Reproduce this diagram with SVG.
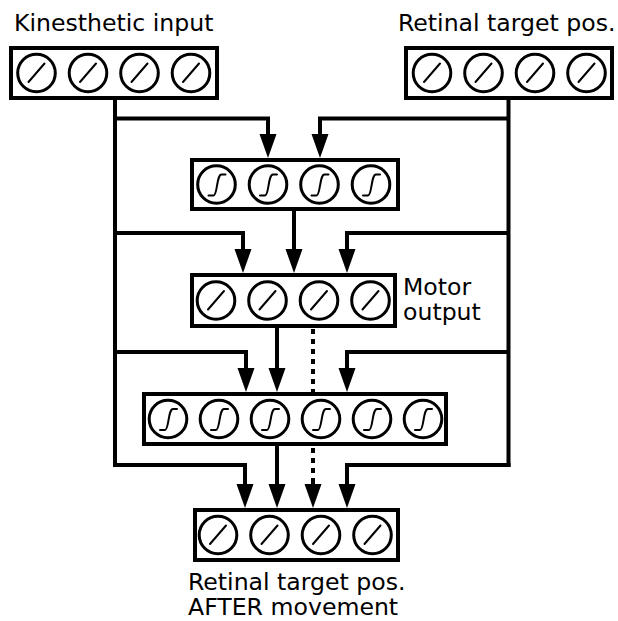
<svg xmlns="http://www.w3.org/2000/svg" width="618" height="621" viewBox="0 0 618 621">
  <style>
    .box { fill: #fff; stroke: #000; stroke-width: 4; }
    .unit { fill: #fff; stroke: #000; stroke-width: 3; }
    .glyph { fill: none; stroke: #000; stroke-width: 2; stroke-linecap: round; }
    .wire { fill: none; stroke: #000; stroke-width: 4; stroke-linejoin: miter; }
    .arrow { marker-end: url(#head); }
    .dotted { stroke-dasharray: 5 5; }
    text { font-family: "DejaVu Sans", "Liberation Sans", sans-serif; font-size: 23.6px; fill: #000; }
  </style>
  <defs>
    <marker id="head" markerUnits="userSpaceOnUse" markerWidth="24" markerHeight="17" refX="14" refY="8.5" orient="auto" overflow="visible">
      <path d="M0,0 L24,8.5 L0,17 Z" fill="#000"/>
    </marker>
    <!-- linear unit -->
    <g id="lin">
      <circle class="unit" r="18.8"/>
      <path class="glyph" d="M-8,9 L8,-9.5"/>
    </g>
    <!-- sigmoid unit -->
    <g id="sig">
      <circle class="unit" r="18.8"/>
      <path class="glyph" d="M-8,11 H-3 C1,11 0,-10 5,-10 H9"/>
    </g>
  </defs>

  <!-- connectors -->
  <g id="connectors">
    <!-- left trunk from kinesthetic input -->
    <path class="wire" d="M115,98 V467"/>
    <path class="wire arrow" d="M115,118.5 H268 V148"/>
    <path class="wire arrow" d="M115,233 H243 V263"/>
    <path class="wire arrow" d="M115,352 H246 V382"/>
    <path class="wire arrow" d="M113,465 H245 V498"/>
    <!-- right trunk from retinal target position -->
    <path class="wire" d="M508.5,98 V467"/>
    <path class="wire arrow" d="M508.5,118.5 H320 V148"/>
    <path class="wire arrow" d="M508.5,233 H347 V263"/>
    <path class="wire arrow" d="M508.5,352 H347 V382"/>
    <path class="wire arrow" d="M510.5,465 H347 V498"/>
    <!-- central chain -->
    <path class="wire arrow" d="M294,210 V263"/>
    <path class="wire arrow" d="M277,327 V382"/>
    <path class="wire dotted" d="M313,329 V392"/>
    <path class="wire arrow" d="M277,446 V498"/>
    <path class="wire dotted" d="M313,448 V480"/>
    <path class="wire arrow" d="M313,478 V498"/>
  </g>

  <!-- kinesthetic input layer -->
  <g id="kinesthetic">
    <text x="14" y="31">Kinesthetic input</text>
    <rect class="box" x="11" y="48" width="206" height="50"/>
    <use href="#lin" x="36.5" y="73"/>
    <use href="#lin" x="88" y="73"/>
    <use href="#lin" x="139.5" y="73"/>
    <use href="#lin" x="191" y="73"/>
  </g>

  <!-- retinal target position layer -->
  <g id="retinal">
    <text x="398" y="31">Retinal target pos.</text>
    <rect class="box" x="406" y="48" width="206" height="50"/>
    <use href="#lin" x="432" y="73"/>
    <use href="#lin" x="483.5" y="73"/>
    <use href="#lin" x="535" y="73"/>
    <use href="#lin" x="586.5" y="73"/>
  </g>

  <!-- first hidden layer -->
  <g id="hidden1">
    <rect class="box" x="192" y="160" width="206" height="49"/>
    <use href="#sig" x="216.5" y="184.5"/>
    <use href="#sig" x="268" y="184.5"/>
    <use href="#sig" x="319.5" y="184.5"/>
    <use href="#sig" x="371" y="184.5"/>
  </g>

  <!-- motor output layer -->
  <g id="motor">
    <rect class="box" x="192" y="275" width="203" height="51"/>
    <use href="#lin" x="216" y="300.5"/>
    <use href="#lin" x="267.5" y="300.5"/>
    <use href="#lin" x="319" y="300.5"/>
    <use href="#lin" x="370.5" y="300.5"/>
    <text x="403" y="295"><tspan x="403" y="295">Motor</tspan><tspan x="403" y="320">output</tspan></text>
  </g>

  <!-- second hidden layer -->
  <g id="hidden2">
    <rect class="box" x="144" y="394" width="302" height="50"/>
    <use href="#sig" x="168" y="419"/>
    <use href="#sig" x="219" y="419"/>
    <use href="#sig" x="270" y="419"/>
    <use href="#sig" x="321" y="419"/>
    <use href="#sig" x="372" y="419"/>
    <use href="#sig" x="423" y="419"/>
  </g>

  <!-- predicted retinal position layer -->
  <g id="after">
    <rect class="box" x="195" y="510" width="203" height="50"/>
    <use href="#lin" x="218" y="535"/>
    <use href="#lin" x="269.5" y="535"/>
    <use href="#lin" x="321" y="535"/>
    <use href="#lin" x="372.5" y="535"/>
    <text x="188" y="590"><tspan x="188" y="590">Retinal target pos.</tspan><tspan x="188" y="615">AFTER movement</tspan></text>
  </g>
</svg>
